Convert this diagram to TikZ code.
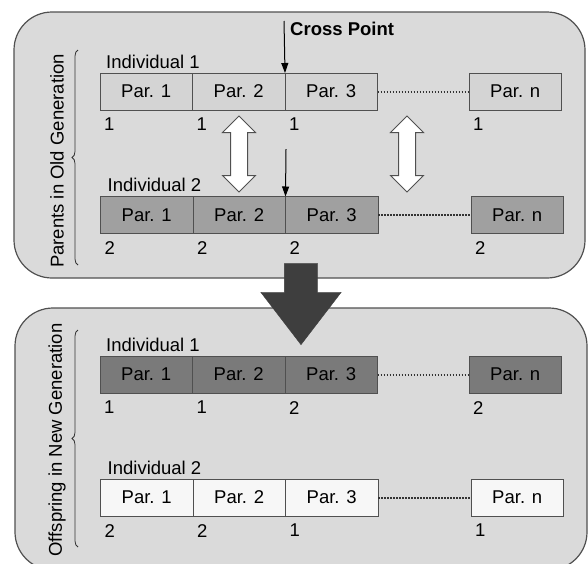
\documentclass[tikz,border=0pt]{standalone}
\usepackage{fontspec}
\setmainfont{Liberation Sans}
\usetikzlibrary{positioning, shapes.arrows, decorations.pathreplacing, arrows.meta}
\definecolor{panelgray}{RGB}{218,218,218}
\definecolor{lightpar}{RGB}{212,212,212}
\definecolor{midpar}{RGB}{160,160,160}
\definecolor{darkpar}{RGB}{122,122,122}
\definecolor{whitepar}{RGB}{247,247,247}
\definecolor{edge}{RGB}{80,80,80}
\definecolor{bigdark}{RGB}{62,62,62}

\begin{document}
\begin{tikzpicture}[
  x=1pt, y=-1pt,
  font=\fontsize{18.5}{21}\selectfont,
  panel/.style={draw=edge, line width=1.2pt, fill=panelgray, rounded corners=38pt},
  par/.style={draw=edge, line width=0.9pt, fill=#1, minimum width=92.5pt,
              minimum height=37pt, inner sep=0pt, outer sep=0pt},
  num/.style={anchor=north west, inner sep=0pt, xshift=4pt, yshift=-8pt},
  indiv/.style={anchor=base west, inner sep=0pt},
  gap/.style={dash pattern=on 1.5pt off 1.5pt, line width=2pt, draw=black!80},
  cut/.style={-{Triangle[length=10pt,width=7pt]}, line width=1pt},
  swap/.style={double arrow, draw=edge, line width=1pt, fill=white, rotate=90,
               minimum height=76pt, inner xsep=0pt, inner ysep=8pt,
               double arrow head extend=8pt},
  bigarrow/.style={single arrow, draw=bigdark, fill=bigdark, rotate=-90,
                   minimum height=81pt, inner xsep=0pt, inner ysep=16.5pt,
                   single arrow head extend=23.5pt, single arrow tip angle=75},
  gen/.style={rotate=90, inner sep=0pt},
  bracket/.style={decorate, decoration={brace, amplitude=6pt},
                  draw=black!80, line width=0.8pt},
  node distance=0pt,
]
  \useasboundingbox (0,0) rectangle (588,563);
  \clip (0,0) rectangle (588,563);

  \draw[panel] (14,12) rectangle (585,278);
  \draw[panel] (15,308) rectangle (587,570);

  \node[gen] (oldgen) at (57,161) {Parents in Old Generation};
  \node[gen] (newgen) at (57,440) {Offspring in New Generation};
  \draw[bracket] (78,265) -- (78,50);
  \draw[bracket] (78,547) -- (78,330);

  % parents
  \node[par=lightpar, anchor=west, label={[num]south west:1}] (a1) at (100,91.5) {Par. 1};
  \node[par=lightpar, right=of a1, label={[num]south west:1}] (a2) {Par. 2};
  \node[par=lightpar, right=of a2, label={[num]south west:1}] (a3) {Par. 3};
  \node[par=lightpar, anchor=west, label={[num]south west:1}] (an) at (469,91.5) {Par. n};
  \node[indiv] (ind1) at ([xshift=6pt, yshift=5pt]a1.north west) {Individual 1};
  \draw[gap] (a3) -- (an);

  \node[par=midpar, anchor=west, label={[num]south west:2}] (b1) at (100.5,215) {Par. 1};
  \node[par=midpar, right=of b1, label={[num]south west:2}] (b2) {Par. 2};
  \node[par=midpar, right=of b2, label={[num]south west:2}] (b3) {Par. 3};
  \node[par=midpar, anchor=west, label={[num]south west:2}] (bn) at (471,215) {Par. n};
  \node[indiv] (ind2) at ([xshift=7pt, yshift=5pt]b1.north west) {Individual 2};
  \draw[gap] (b3) -- (bn);

  \coordinate (cp1) at (284,21);
  \coordinate (cp2) at (286,149);
  \node[indiv, font=\fontsize{18.5}{21}\selectfont\bfseries] (cross) at (290,35) {Cross Point};
  \draw[cut] (cp1) -- (a2.north east);
  \draw[cut] (cp2) -- (b2.north east);

  \node[swap] (sw1) at (239,154) {};
  \node[swap] (sw2) at (407,154) {};

  % offspring
  \node[par=darkpar, anchor=west, label={[num]south west:1}] (c1) at (100,374.5) {Par. 1};
  \node[par=darkpar, right=of c1, label={[num]south west:1}] (c2) {Par. 2};
  \node[par=darkpar, right=of c2, label={[num]south west:2}] (c3) {Par. 3};
  \node[par=darkpar, anchor=west, label={[num]south west:2}] (cn) at (469,374.5) {Par. n};
  \node[indiv] (ind3) at ([xshift=6pt, yshift=5pt]c1.north west) {Individual 1};
  \draw[gap] (c3) -- (cn);

  \node[par=whitepar, anchor=west, label={[num]south west:2}] (d1) at (100.5,497.5) {Par. 1};
  \node[par=whitepar, right=of d1, label={[num]south west:2}] (d2) {Par. 2};
  \node[par=whitepar, right=of d2, label={[num]south west:1}] (d3) {Par. 3};
  \node[par=whitepar, anchor=west, label={[num]south west:1}] (dn) at (471,497.5) {Par. n};
  \node[indiv] (ind4) at ([xshift=7pt, yshift=5pt]d1.north west) {Individual 2};
  \draw[gap] (d3) -- (dn);

  \node[bigarrow, anchor=tip] (big) at (301,345) {};
\end{tikzpicture}
\end{document}
